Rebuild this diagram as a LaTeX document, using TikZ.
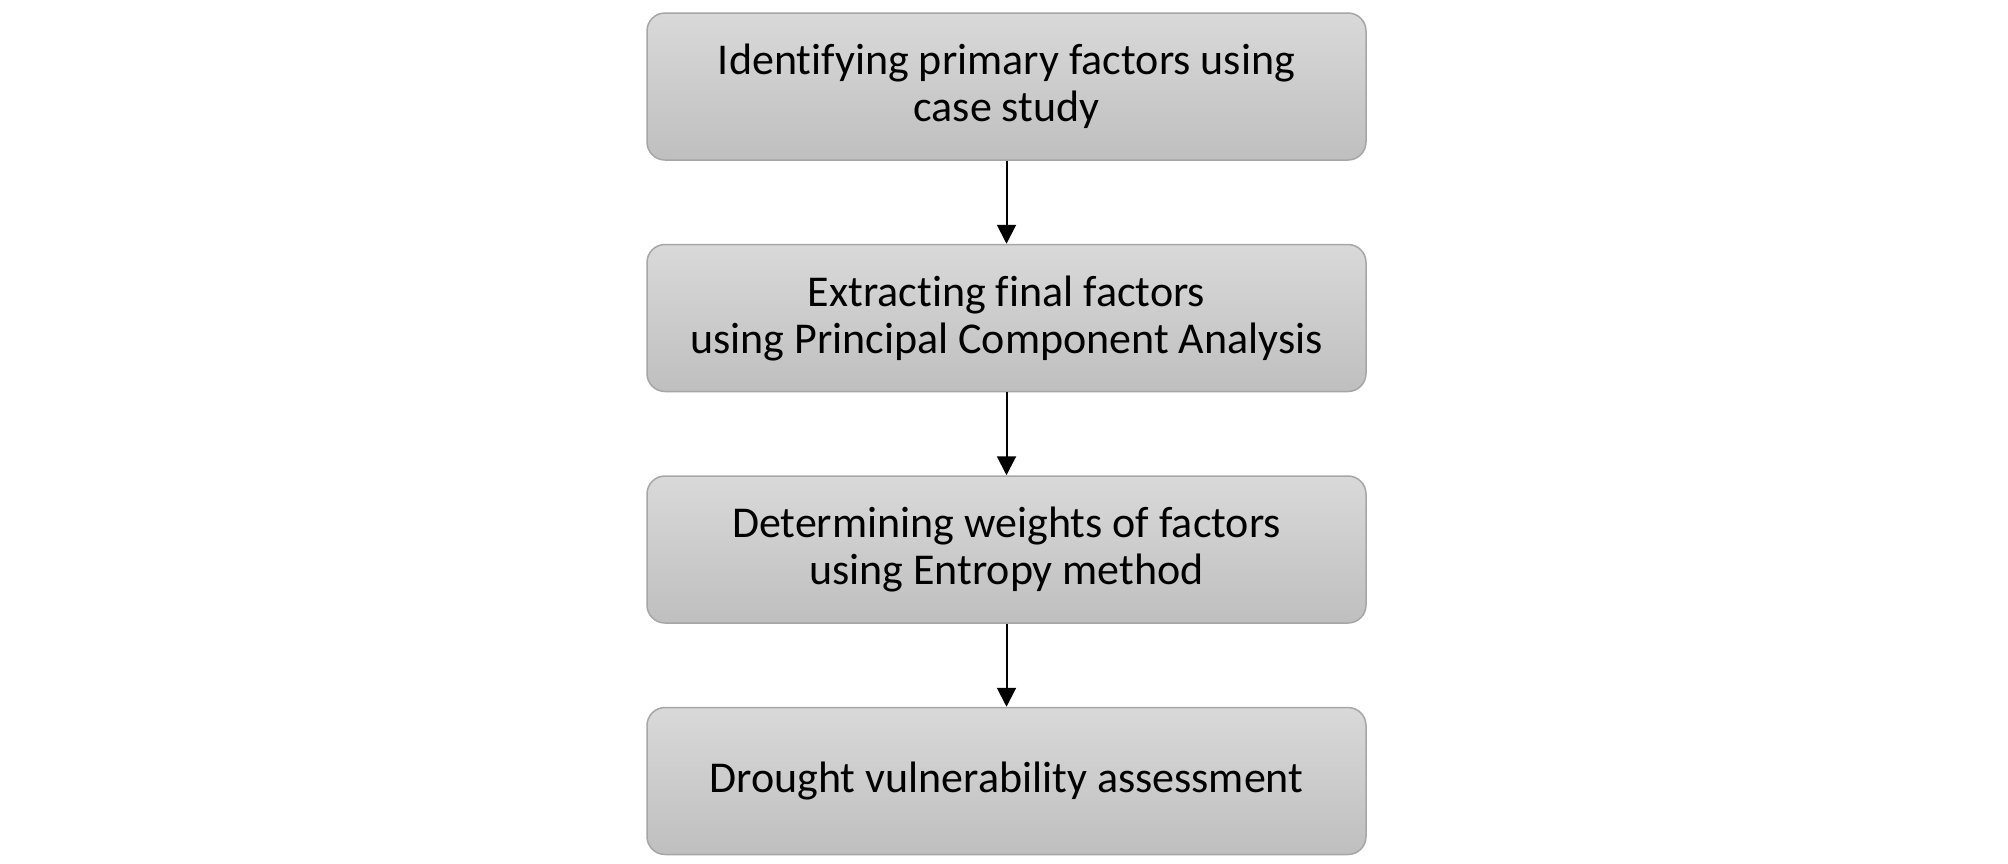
\documentclass[tikz,border=0pt]{standalone}
\usepackage{fontspec}
\setmainfont[Ligatures=NoCommon]{Carlito}
\usetikzlibrary{positioning,arrows.meta}
\definecolor{boxtop}{HTML}{D9D9D9}
\definecolor{boxbottom}{HTML}{BFBFBF}
\definecolor{boxline}{HTML}{A6A6A6}

\begin{document}
\begin{tikzpicture}[x=1pt,y=1pt,
            node distance = 41.5pt,
            every node/.style = {draw=boxline, line width=0.75pt, rounded corners=9pt,
                top color=boxtop, bottom color=boxbottom,
                minimum width=359.5pt, minimum height=73.5pt,
                align=center, font=\fontsize{22}{23.5}\selectfont},
            flow/.style = {-{Triangle[length=9.5pt,width=9.5pt]}, line width=1pt}
            ]
            \useasboundingbox (0,0) rectangle (1004,-431.5);
            \node (case) at (503.25,-43.25) {Identifying primary factors using\\case study};
            \node (pca) [below=of case] {Extracting final factors\\using Principal Component Analysis};
            \node (entropy) [below=of pca] {Determining weights of factors\\using Entropy method};
            \node (assess) [below=of entropy] {Drought vulnerability assessment};
            \draw[flow] (case) -- (pca);
            \draw[flow] (pca) -- (entropy);
            \draw[flow] (entropy) -- (assess);
        \end{tikzpicture}
\end{document}
